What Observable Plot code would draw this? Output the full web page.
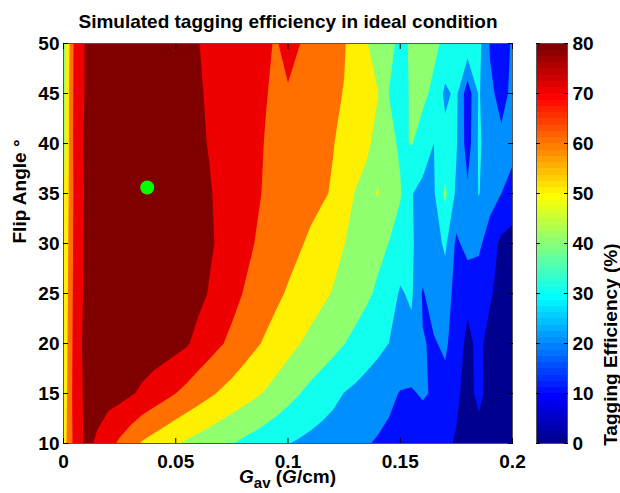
<!DOCTYPE html>
<html><head><meta charset="utf-8">
<script src="https://cdn.jsdelivr.net/npm/d3@7"></script>
<script src="https://cdn.jsdelivr.net/npm/@observablehq/plot@0.6"></script>
<style>
body{margin:0;background:#fff;}
#wrap{position:relative;width:620px;height:493px;font-family:"Liberation Sans",Arial,sans-serif;background:#fff;}
#main{position:absolute;left:0;top:0;}
#cbar{position:absolute;left:530px;top:0;}
#xlabel{position:absolute;top:472px;left:0;width:575px;text-align:center;font-weight:bold;font-size:19px;line-height:10px;white-space:nowrap;}
#xlabel span{display:inline-block;line-height:10px;height:10px;}
#xlabel .sub{font-size:15px;position:relative;top:5px;}
</style></head><body>
<div id="wrap"><div id="main"></div><div id="cbar"></div>
<div id="xlabel"><span><i>G</i></span><span class="sub">av</span><span>&nbsp;(<i>G</i>/cm)</span></div></div>
<script>
// ---- data (tagging efficiency %, rows = flip angle, columns = G_av from 0 to 0.2 step 0.005) ----
const title = "Simulated tagging efficiency in ideal condition";
const yLabel = "Flip Angle °";
const cbLabel = "Tagging Efficiency (%)";
const gavExtent = [0, 0.2];
const flipAngles = [50, 45, 40, 35, 30, 25, 20, 15, 10];
const row50 = [45, 73, 81, 82.5, 83.5, 84, 84, 84, 84, 83.5, 83, 82, 80.2, 78.6, 77, 75.5, 74, 72.4, 70.8, 69.5, 73, 70.3, 67.9, 65.5, 63.1, 60.7, 56, 50.5, 46.3, 42.3, 38, 41, 43, 42, 38, 39.5, 37, 33, 19, 16, 21];
const row45 = [47, 73.5, 81, 83, 84, 84.5, 85, 85, 85, 84.5, 84, 83, 80.8, 79.1, 77.3, 75.6, 73.8, 72, 70.3, 68.8, 69.2, 65.8, 64.3, 62.9, 61.4, 59.7, 56.6, 53.4, 50.3, 39.8, 37, 41, 42, 38, 28, 32, 14, 31, 22, 17, 22];
const row40 = [47, 74, 82, 83.5, 84.5, 85, 85.5, 85.5, 85.5, 85, 84.5, 83.5, 81.3, 79.6, 77.7, 75.7, 73.6, 71.6, 69.7, 68.2, 66.6, 65, 63.5, 61.9, 60.4, 57.5, 54.4, 51.4, 47.6, 43, 38.5, 40.5, 36, 30, 33, 31, 15, 31.5, 25, 22, 24];
const row35 = [49, 73, 81.5, 83, 84.5, 85.5, 86, 86, 86, 85.5, 85, 84, 82, 80.6, 78.3, 76, 73.5, 71.2, 69.3, 67.7, 66.1, 64.4, 62.9, 61.3, 59.1, 53.9, 49.6, 47.4, 50.5, 44.5, 41, 30.5, 27, 29, 42, 28, 22, 30.5, 24, 20, 15];
const row30 = [50, 73.5, 82, 84, 85, 86, 86.5, 86.5, 86.5, 86, 85.5, 84.5, 82.5, 81.2, 78.5, 75.8, 72.8, 70, 67.8, 65.6, 63.3, 61, 58.5, 55.9, 53.2, 50.2, 47.7, 45.1, 42.6, 39.8, 35.2, 30.8, 27, 25, 32, 18, 24, 22, 15, 8, 7];
const row25 = [51, 74, 82, 84, 85, 86, 86.5, 86.5, 86, 85.5, 85, 84, 82.7, 79.4, 76.3, 73.1, 69.8, 67.1, 64.4, 61.7, 59.1, 56.6, 54.3, 51.9, 49.5, 46.7, 44.2, 41.6, 38.5, 34.3, 29, 31.5, 19, 25, 24, 17, 12, 14, 11, 7, 6];
const row20 = [52, 74.5, 83, 84.5, 85.5, 86, 86, 86, 85.5, 84.5, 83, 81, 76.8, 73.8, 70.8, 67.8, 64.6, 61.6, 58.8, 56, 53.1, 50.3, 47.8, 45.3, 42.9, 40.2, 37.7, 35.1, 32.6, 29.9, 27, 27, 20.5, 19, 22, 14, 8, 12, 7, 6, 5];
const row15 = [53, 75, 82, 83, 83.5, 83, 81, 78.3, 75.5, 72.8, 70, 67.1, 64.3, 61.5, 58.9, 56.6, 54, 51.7, 49.2, 46.3, 43.3, 40.3, 37.5, 35.1, 32.6, 29.8, 28, 26, 24, 22, 19.5, 19, 21, 19, 16, 11, 8, 11.5, 8, 4, 4];
const row10 = [55, 73.8, 82, 78.9, 73.5, 68.3, 63.5, 59, 56.3, 53.5, 50.8, 48.5, 46.4, 44.4, 42.4, 40.4, 38.2, 36.3, 34.3, 32.3, 30.3, 28.8, 27.4, 26, 24.7, 23.2, 21.9, 20.5, 19.2, 17.8, 16.4, 15.1, 13.8, 12.4, 11, 9.5, 8, 7.5, 6, 4, 3];
const levels = [0, 10, 20, 30, 40, 50, 60, 70, 80];
const xTicks = [0, 0.05, 0.1, 0.15, 0.2];
const yTicks = [10, 15, 20, 25, 30, 35, 40, 45, 50];
const cbTicks = [0, 10, 20, 30, 40, 50, 60, 70, 80];
const optimum = [{gav: 0.0373, flip: 35.6}];

// ---- grid geometry derived from the arrays ----
const rows = [row50, row45, row40, row35, row30, row25, row20, row15, row10];
const nx = row50.length, ny = rows.length;
const values = rows.flat();
const dx = (gavExtent[1] - gavExtent[0]) / (nx - 1);
const dy = (flipAngles[0] - flipAngles[ny - 1]) / (ny - 1);

// MATLAB jet (64 colours) over 0..80
const colorOpts = {
  type: "linear",
  domain: [0, 8.75, 28.75, 48.75, 68.75, 78.75],
  range: ["#00008f", "#0000ff", "#00ffff", "#ffff00", "#ff0000", "#800000"],
  interpolate: "rgb",
  clamp: true
};
const font = '"Liberation Sans", Arial, Helvetica, sans-serif';
const noLabel = () => "";

const main = Plot.plot({
  width: 530, height: 493,
  marginLeft: 63, marginRight: 18, marginTop: 43, marginBottom: 50,
  style: {fontFamily: font, fontSize: "19px", fontWeight: "bold", background: "white", color: "black"},
  x: {domain: gavExtent, label: null},
  y: {domain: [10, 50], label: null},
  color: colorOpts,
  marks: [
    Plot.contour(values, {
      width: nx, height: ny,
      x1: gavExtent[0] - dx / 2, x2: gavExtent[1] + dx / 2,
      y1: flipAngles[0] + dy / 2, y2: flipAngles[ny - 1] - dy / 2,
      fill: Plot.identity, stroke: "none", thresholds: levels, clip: true
    }),
    Plot.dot(optimum, {x: "gav", y: "flip", r: 7, fill: "#00ff00", stroke: "none"}),
    Plot.frame({stroke: "#555"}),
    Plot.axisX(xTicks, {anchor: "bottom", tickSize: -5, tickPadding: 16, tickFormat: d => String(d), label: null}),
    Plot.axisX(xTicks, {anchor: "top", tickSize: -5, tickFormat: noLabel, label: null}),
    Plot.axisY(yTicks, {anchor: "left", tickSize: -5, tickPadding: 9, tickFormat: d => String(d), label: null}),
    Plot.axisY(yTicks, {anchor: "right", tickSize: -5, tickFormat: noLabel, label: null}),
    Plot.text([title], {frameAnchor: "top", dy: -29, fontSize: 19, fontWeight: "bold"}),
    Plot.text([yLabel], {frameAnchor: "left", rotate: -90, dx: -44, fontSize: 19, fontWeight: "bold"})
  ]
});
document.getElementById("main").append(main);

const cb = Plot.plot({
  width: 90, height: 493,
  marginLeft: 6, marginRight: 53, marginTop: 43, marginBottom: 50,
  style: {fontFamily: font, fontSize: "19px", fontWeight: "bold", background: "transparent", color: "black"},
  x: {domain: [0, 1], axis: null},
  y: {domain: [cbTicks[0], cbTicks[cbTicks.length - 1]], label: null},
  color: colorOpts,
  marks: [
    Plot.raster({
      fill: (x, y) => Math.floor(y / 1.25) * 1.25,
      x1: 0, x2: 1, y1: 0, y2: 80, width: 1, height: 64,
      imageRendering: "pixelated"
    }),
    Plot.frame({stroke: "#555"}),
    Plot.axisY(cbTicks, {anchor: "right", tickSize: -4, tickPadding: 9, tickFormat: d => String(d), label: null}),
    Plot.axisY(cbTicks, {anchor: "left", tickSize: -4, tickFormat: noLabel, label: null}),
    Plot.text([cbLabel], {frameAnchor: "right", rotate: -90, dx: 43, fontSize: 19, fontWeight: "bold"})
  ]
});
document.getElementById("cbar").append(cb);
</script>
</body></html>
